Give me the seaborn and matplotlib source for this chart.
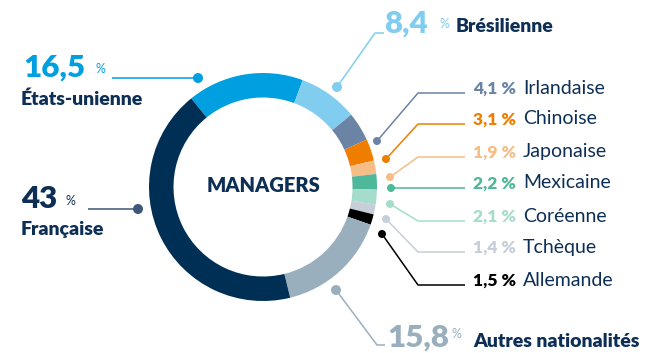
import matplotlib
matplotlib.use("Agg")
import matplotlib.pyplot as plt
import seaborn as sns

# Nationalities of managers (share in %), in ring order (clockwise)
nationalities = ["États-unienne", "Brésilienne", "Irlandaise", "Chinoise", "Japonaise",
                 "Mexicaine", "Coréenne", "Tchèque", "Allemande", "Autres nationalités",
                 "Française"]
shares = [16.5, 8.4, 4.1, 3.1, 1.9, 2.2, 2.1, 1.4, 1.5, 15.8, 43]
share_labels = ["16,5", "8,4", "4,1", "3,1", "1,9", "2,2", "2,1", "1,4", "1,5", "15,8", "43"]
ring_colors = ["#009fe0", "#80cdef", "#6b84a6", "#ef7d00", "#f6be86",
               "#4fb89a", "#a6dccc", "#c6ced8", "#000000", "#9aafbe", "#002f56"]
NAVY = "#0d2f55"

sns.set_theme(style="white")
plt.rcParams["font.family"] = ["Lato", "DejaVu Sans"]
palette = sns.color_palette(ring_colors)

W, H = 651, 353
fig = plt.figure(figsize=(W / 100, H / 100), dpi=100)
ax = fig.add_axes([0, 0, 1, 1])


def Y(y):
    # layout is measured from the top edge
    return H - y


cx, cy, r_out, ring_w = 263, 187, 114, 24.5
ax.pie(shares, colors=palette, startangle=129, counterclock=False,
       radius=r_out, center=(cx, Y(cy)),
       wedgeprops=dict(width=ring_w, linewidth=0), frame=True)
ax.set_xlim(0, W)
ax.set_ylim(0, H)
ax.set_aspect("equal")
ax.axis("off")

ax.text(cx, Y(185), "MANAGERS", ha="center", va="center", color=NAVY,
        fontsize=14.5, fontweight="heavy")


def leader(points, color, dot_r=4):
    xs = [p[0] for p in points]
    ys = [Y(p[1]) for p in points]
    ax.plot(xs, ys, color=color, lw=1.1, solid_capstyle="butt", zorder=3)
    d = points[0]
    ax.add_patch(plt.Circle((d[0], Y(d[1])), dot_r, color=color, lw=0, zorder=4))


idx = {n: i for i, n in enumerate(nationalities)}

# Large labels: États-unienne, Française, Brésilienne, Autres
big = {
    "États-unienne": dict(num=(23, 77), pct=(96, 73), name=(21, 105),
                          line=[(198, 78), (112, 78)], num_color="#009fe0"),
    "Française": dict(num=(21, 208), pct=(66, 205), name=(21, 235),
                      line=[(138, 209), (88, 209)], num_color=NAVY),
    "Brésilienne": dict(num=(384, 33), pct=(440, 28), name=(456, 32),
                        line=[(337, 87), (375, 33), (384, 33)], num_color="#80cdef"),
    "Autres nationalités": dict(num=(387, 347), pct=(452, 338), name=(473, 347),
                                line=[(336, 290), (377, 345), (385, 345)],
                                num_color="#9aafbe"),
}
for name, spec in big.items():
    i = idx[name]
    col = ring_colors[i]
    line_col = "#3d5878" if name == "Française" else col
    leader(spec["line"], line_col, 5)
    ax.text(spec["num"][0], Y(spec["num"][1]), share_labels[i], ha="left", va="baseline",
            color=spec["num_color"], fontsize=22.5, fontweight="heavy")
    ax.text(spec["pct"][0], Y(spec["pct"][1]), "%", ha="left", va="baseline",
            color=spec["num_color"], fontsize=9)
    ax.text(spec["name"][0], Y(spec["name"][1]), name, ha="left", va="baseline",
            color=NAVY, fontsize=14, fontweight="heavy")

# Small labels stacked on the right
small = {
    "Irlandaise": [(377, 141), (418, 93), (465, 93)],
    "Chinoise": [(386, 159), (418, 124), (465, 124)],
    "Japonaise": [(390, 177), (418, 157), (465, 157)],
    "Mexicaine": [(391, 188), (465, 188)],
    "Coréenne": [(390, 204), (418, 221), (465, 221)],
    "Tchèque": [(386, 219), (418, 252), (465, 252)],
    "Allemande": [(382, 234), (418, 285), (465, 285)],
}
for name, pts in small.items():
    i = idx[name]
    col = ring_colors[i]
    leader(pts, col, 4)
    base = pts[-1][1] + 0.5
    ax.text(473, Y(base), share_labels[i] + " %", ha="left", va="baseline",
            color=col, fontsize=12.5, fontweight="heavy")
    ax.text(523, Y(base), name, ha="left", va="baseline",
            color=NAVY, fontsize=14, fontweight="normal")

fig.savefig("out.png", dpi=100, facecolor="white")
